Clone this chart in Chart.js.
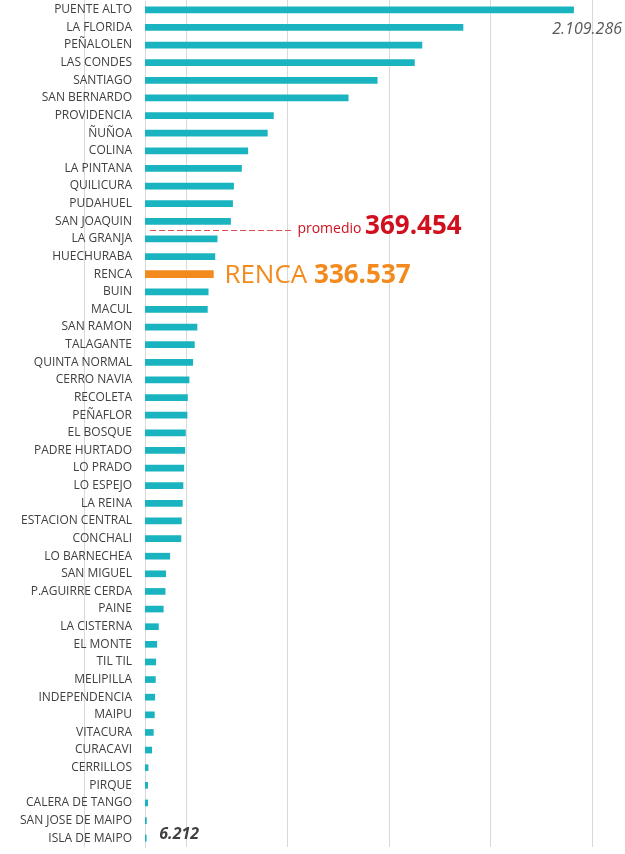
<!DOCTYPE html>
<html>
<head>
<meta charset="utf-8">
<script src="https://cdn.jsdelivr.net/npm/chart.js@4/dist/chart.umd.min.js"></script>
<style>
  html, body { margin: 0; padding: 0; background: #fff; }
  #wrap { width: 625px; height: 854px; }
</style>
</head>
<body>
<div id="wrap"><canvas id="chart" width="625" height="854"></canvas></div>
<script>
const comunas = [
    'PUENTE ALTO', 'LA FLORIDA', 'PEÑALOLEN', 'LAS CONDES', 'SANTIAGO', 'SAN BERNARDO',
    'PROVIDENCIA', 'ÑUÑOA', 'COLINA', 'LA PINTANA', 'QUILICURA', 'PUDAHUEL', 'SAN JOAQUIN',
    'LA GRANJA', 'HUECHURABA', 'RENCA', 'BUIN', 'MACUL', 'SAN RAMON', 'TALAGANTE',
    'QUINTA NORMAL', 'CERRO NAVIA', 'RECOLETA', 'PEÑAFLOR', 'EL BOSQUE', 'PADRE HURTADO',
    'LO PRADO', 'LO ESPEJO', 'LA REINA', 'ESTACION CENTRAL', 'CONCHALI', 'LO BARNECHEA',
    'SAN MIGUEL', 'P.AGUIRRE CERDA', 'PAINE', 'LA CISTERNA', 'EL MONTE', 'TIL TIL',
    'MELIPILLA', 'INDEPENDENCIA', 'MAIPU', 'VITACURA', 'CURACAVI', 'CERRILLOS', 'PIRQUE',
    'CALERA DE TANGO', 'SAN JOSE DE MAIPO', 'ISLA DE MAIPO'
];
const valores = [
    2109286, 1565000, 1363000, 1326000, 1143000, 1000000,
    632000, 602000, 506000, 475000, 436000, 431000, 421000,
    355000, 344000, 336537, 311000, 307000, 256000, 243000,
    235000, 217000, 209000, 207000, 199000, 196000,
    191000, 187000, 184000, 179000, 177000, 122000,
    102000, 99000, 90000, 66000, 58000, 53000,
    51000, 48000, 46000, 41000, 33000, 15000, 13000,
    13000, 7000, 6212
];
const destacada = 'RENCA';
const promedio = 369454;
const gridValues = [-300000, 200000, 700000, 1200000, 1700000, 2200000];

const TEAL = '#1ab3c0';
const ORANGE = '#f28a1e';
const RED = '#d0101e';

// formato chileno: 2.109.286
function fmt(v) {
    return String(v).replace(/\B(?=(\d{3})+(?!\d))/g, '.');
}

const idxDest = comunas.indexOf(destacada);
const idxMax = 0;
const idxMin = valores.length - 1;

const extras = {
    id: 'extras',
    beforeDraw(chart) {
        const ctx = chart.ctx;
        const x = chart.scales.x;
        const area = chart.chartArea;
        ctx.save();
        ctx.strokeStyle = '#d9d9d9';
        ctx.lineWidth = 1;
        gridValues.forEach(v => {
            const px = Math.round(x.getPixelForValue(v)) + 0.5;
            ctx.beginPath();
            ctx.moveTo(px, 0);
            ctx.lineTo(px, area.bottom);
            ctx.stroke();
        });
        ctx.restore();
    },
    afterDraw(chart) {
        const ctx = chart.ctx;
        const x = chart.scales.x;
        const y = chart.scales.y;
        ctx.save();
        ctx.textBaseline = 'middle';

        // valor maximo
        ctx.font = 'italic 16px "Open Sans"';
        ctx.fillStyle = '#595959';
        ctx.textAlign = 'right';
        ctx.fillText(fmt(valores[idxMax]), 622, y.getPixelForValue(idxMax + 1) + 2);

        // linea promedio
        const yProm = y.getPixelForValue(12.5);
        ctx.strokeStyle = '#dd4a50';
        ctx.lineWidth = 1;
        ctx.setLineDash([6, 3]);
        ctx.beginPath();
        ctx.moveTo(x.getPixelForValue(25000), Math.round(yProm) + 0.5);
        ctx.lineTo(x.getPixelForValue(720000), Math.round(yProm) + 0.5);
        ctx.stroke();
        ctx.setLineDash([]);

        ctx.textAlign = 'left';
        let tx = x.getPixelForValue(750000);
        ctx.fillStyle = RED;
        ctx.font = '14px "Open Sans"';
        ctx.fillText('promedio', tx, yProm - 1);
        tx += ctx.measureText('promedio ').width;
        ctx.font = 'bold 26px "Open Sans"';
        ctx.fillText(fmt(promedio), tx, yProm - 4);

        // comuna destacada
        const yR = y.getPixelForValue(idxDest) + 1;
        tx = x.getPixelForValue(valores[idxDest]) + 11;
        ctx.fillStyle = ORANGE;
        ctx.font = '26px "Open Sans"';
        ctx.fillText(destacada + ' ', tx, yR);
        tx += ctx.measureText(destacada + ' ').width;
        ctx.font = 'bold 26px "Open Sans"';
        ctx.fillText(fmt(valores[idxDest]), tx, yR);

        // valor minimo
        ctx.fillStyle = '#404040';
        ctx.font = 'bold italic 16px "Open Sans"';
        ctx.fillText(fmt(valores[idxMin]), x.getPixelForValue(valores[idxMin]) + 13, y.getPixelForValue(idxMin) - 4);
        ctx.restore();
    }
};

function draw() {
    new Chart(document.getElementById('chart'), {
        type: 'bar',
        data: {
            labels: comunas,
            datasets: [
                {
                    data: valores.map((v, i) => i === idxDest ? null : v),
                    backgroundColor: TEAL,
                    barThickness: 6,
                    grouped: false
                },
                {
                    data: valores.map((v, i) => i === idxDest ? v : null),
                    backgroundColor: ORANGE,
                    barThickness: 7,
                    grouped: false
                }
            ]
        },
        options: {
            indexAxis: 'y',
            responsive: false,
            animation: false,
            devicePixelRatio: 1,
            layout: { padding: { top: 1, bottom: 7, right: 33, left: 0 } },
            plugins: { legend: { display: false }, tooltip: { enabled: false } },
            scales: {
                x: { display: false, min: 0, max: 2200000 },
                y: {
                    grid: { display: false, drawTicks: false },
                    border: { display: true, color: '#d9d9d9', width: 1 },
                    ticks: {
                        autoSkip: false,
                        padding: 13,
                        color: '#404040',
                        font: { family: 'Open Sans', size: 12 }
                    },
                    afterFit(s) {
                        s.width = 145;
                        s.paddingTop = 0;
                        s.paddingBottom = 0;
                    }
                }
            }
        },
        plugins: [extras]
    });
}

Promise.all([
    document.fonts.load('12px "Open Sans"'),
    document.fonts.load('bold 12px "Open Sans"'),
    document.fonts.load('italic 12px "Open Sans"'),
    document.fonts.load('bold italic 12px "Open Sans"')
]).then(draw, draw);
</script>
</body>
</html>
